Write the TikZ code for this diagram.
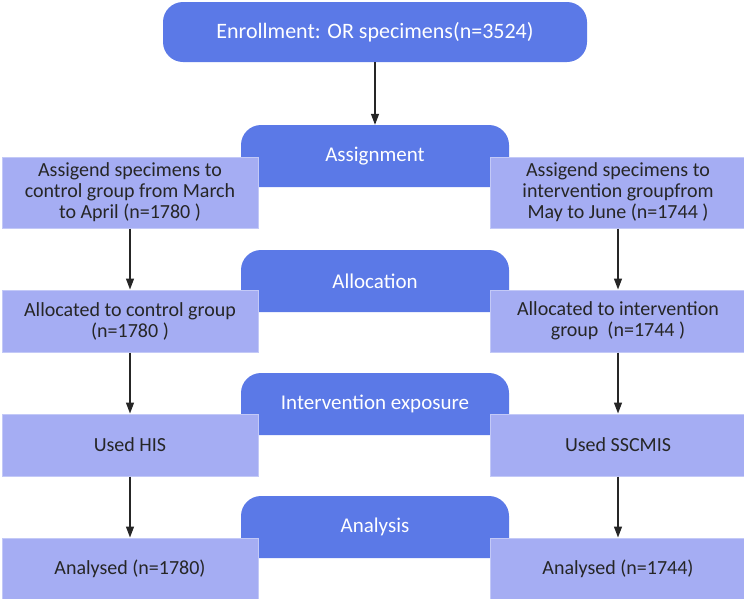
\documentclass[tikz,border=0pt]{standalone}
\usepackage{fontspec}
\setmainfont{Carlito}
\usepackage{xcolor}
\usetikzlibrary{arrows.meta, positioning}
\definecolor{phaseblue}{HTML}{5B79E7}
\definecolor{groupblue}{HTML}{A5ADF3}
\definecolor{groupedge}{HTML}{C3C9F7}
\definecolor{inkgray}{HTML}{262626}

\begin{document}
\begin{tikzpicture}[
  x=1pt, y=-1pt,
  node distance=61pt and 231pt,
  enroll/.style={fill=phaseblue, text=white, rounded corners=20pt, minimum width=424pt, minimum height=60pt, font=\fontsize{22}{26}\selectfont},
  phase/.style={text=white, minimum width=268pt, minimum height=62pt, font=\fontsize{21}{25}\selectfont,
    path picture={\fill[phaseblue] (path picture bounding box.south west) [rounded corners=20pt] -- (path picture bounding box.north west) -- (path picture bounding box.north east) [sharp corners] -- (path picture bounding box.south east) -- cycle;}},
  group/.style={fill=groupblue, draw=groupedge, line width=1pt, text=inkgray, minimum width=256pt, minimum height=62pt, align=center, font=\fontsize{20}{21}\selectfont},
  arrow/.style={-{Triangle[length=11pt,width=8pt]}, draw=inkgray, line width=1.3pt}
]
\useasboundingbox (0,0) rectangle (744,598);

% Nodes
\node[enroll] (enroll) at (375,32) {Enrollment: OR specimens(n=3524)};
\node[phase] (assign) at (375,156) {Assignment};
\node[phase] (alloc) at (375,281) {Allocation};
\node[phase] (expo) at (375,404) {Intervention exposure};
\node[phase] (anal) at (375,527) {Analysis};

\node[group, minimum height=71pt] (ctrl1) at (130,192.5) {Assigend specimens to\\control group from March\\to April (n=1780 )};
\node[group, minimum height=71pt, right=of ctrl1] (intv1) {Assigend specimens to\\intervention groupfrom\\May to June (n=1744 )};
\node[group, below=of ctrl1] (ctrl2) {Allocated to control group\\(n=1780 )};
\node[group, right=of ctrl2] (intv2) {Allocated to intervention\\group \ (n=1744 )};
\node[group, below=of ctrl2] (ctrl3) {Used HIS};
\node[group, right=of ctrl3] (intv3) {Used SSCMIS};
\node[group, below=of ctrl3] (ctrl4) {Analysed (n=1780)};
\node[group, right=of ctrl4] (intv4) {Analysed (n=1744)};

% Pointers
\draw[arrow] (enroll) -- (assign);
\draw[arrow] (ctrl1) -- (ctrl2);
\draw[arrow] (ctrl2) -- (ctrl3);
\draw[arrow] (ctrl3) -- (ctrl4);
\draw[arrow] (intv1) -- (intv2);
\draw[arrow] (intv2) -- (intv3);
\draw[arrow] (intv3) -- (intv4);
\end{tikzpicture}
\end{document}
